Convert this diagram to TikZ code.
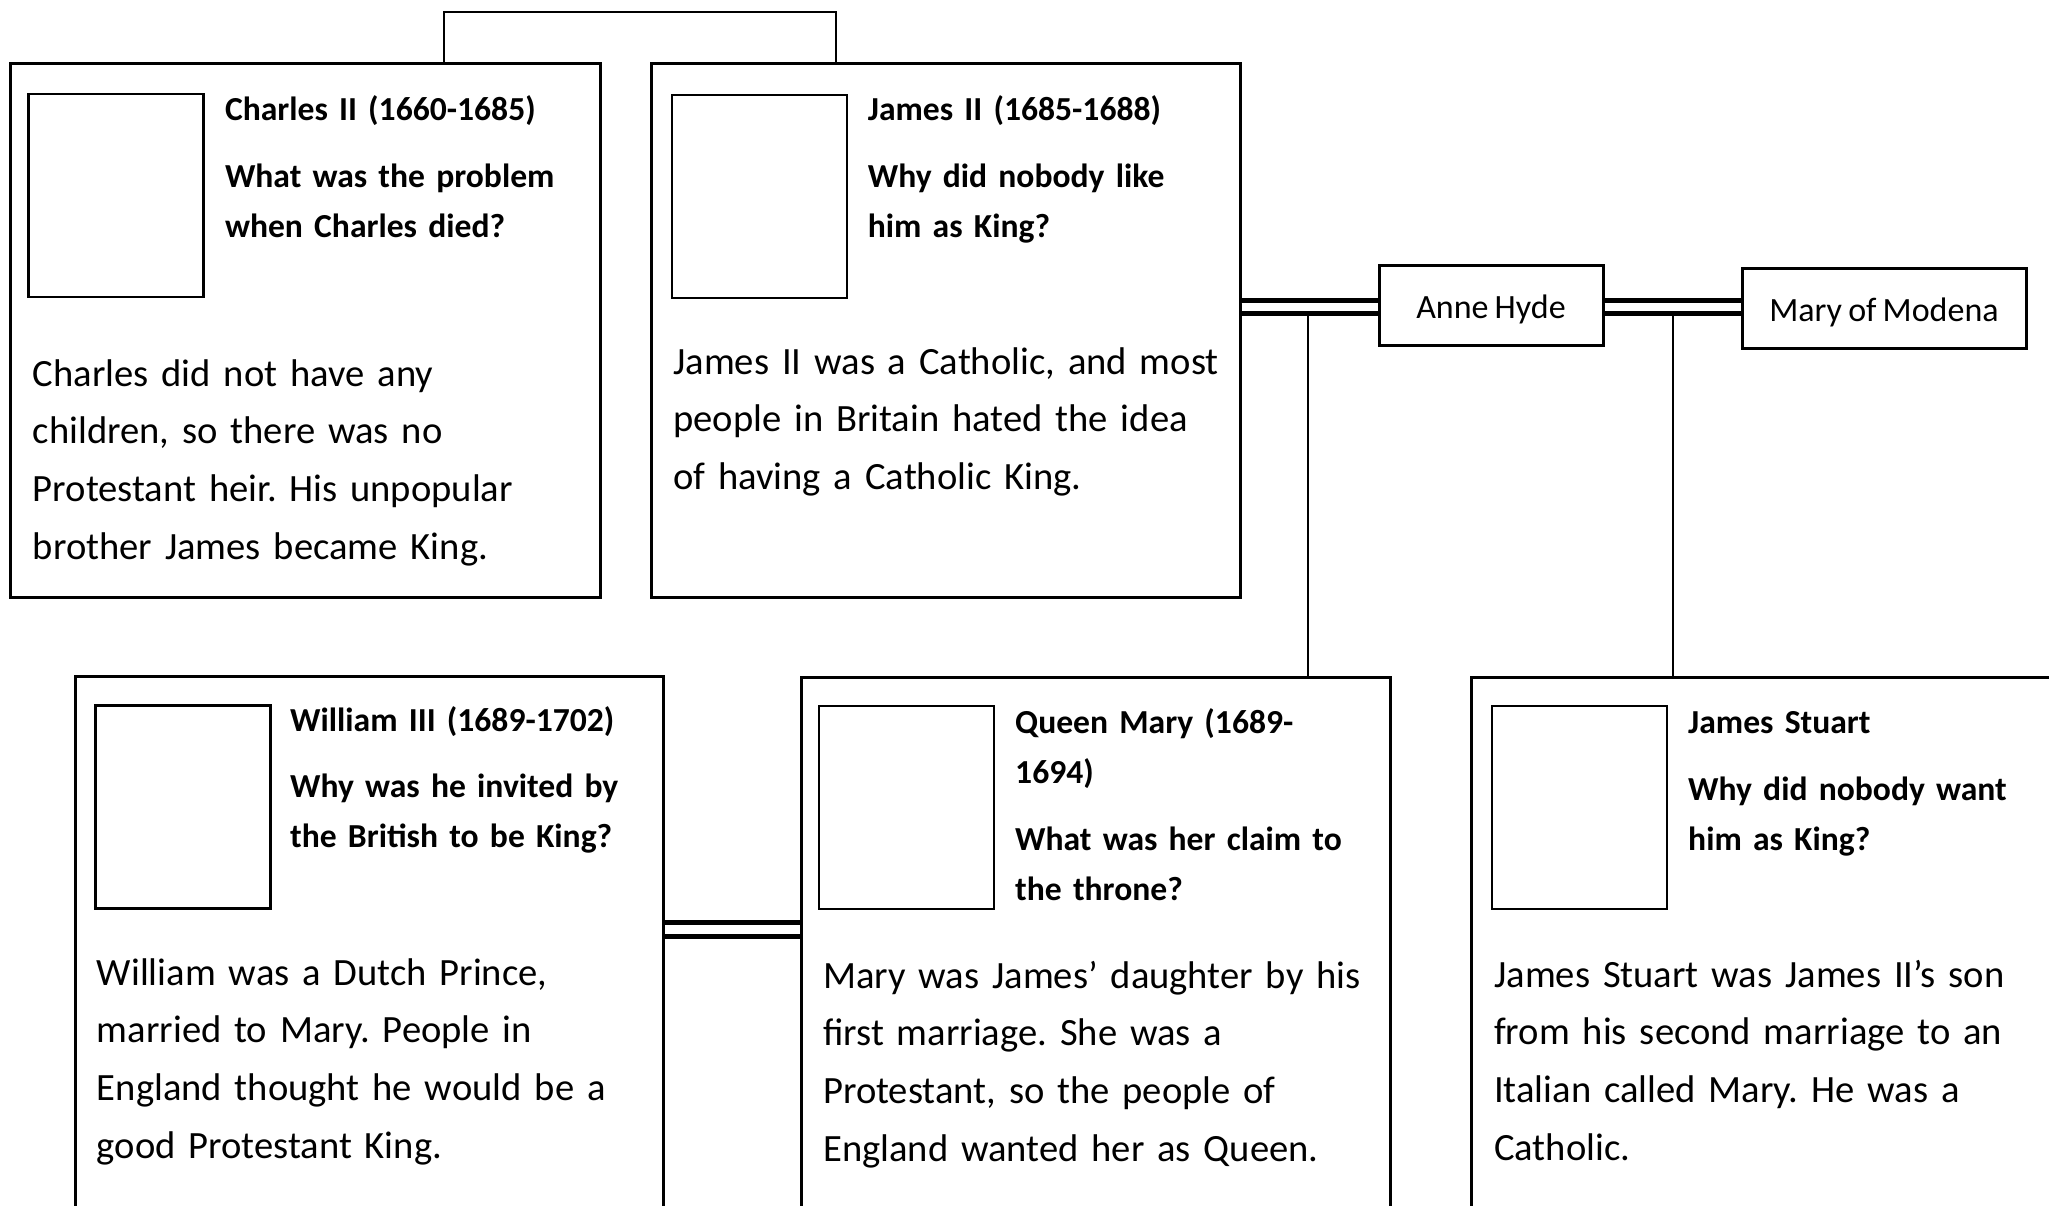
\documentclass[tikz,border=0pt]{standalone}
\usepackage{fontspec}
\setmainfont{Carlito}[WordSpace=0.8]
\frenchspacing
\begin{document}
\begin{tikzpicture}[x=1pt,y=-1pt, line join=miter,
    card/.style={draw, line width=3pt, anchor=north west, inner sep=0pt, outer sep=0pt},
    photo/.style={draw, line width=2.5pt, anchor=north west, inner sep=0pt, outer sep=0pt, minimum width=175pt, minimum height=203pt},
    spouse/.style={draw, line width=3pt, inner sep=0pt, outer sep=0pt, minimum height=80pt, text height=27pt, text depth=0pt, font=\fontsize{34}{40}\selectfont},
    qhead/.style={anchor=base west, inner sep=0pt, align=left, text width=460pt, font=\fontsize{33.6}{50}\selectfont\bfseries},
    blurb/.style={anchor=base west, inner sep=0pt, align=left, text width=580pt, font=\fontsize{38.6}{57.9}\selectfont},
    wed/.style={double, line width=5pt, double distance=8pt, shorten <=1.5pt, shorten >=1.5pt},
    kin/.style={line width=2pt}]
    \useasboundingbox (0,0) rectangle (2049,1206);
    \clip (0,0) rectangle (2049,1206);
    % top row
    \node[card, minimum width=590pt, minimum height=533pt] (charles) at (10.5,64) {};
    \node[card, minimum width=589pt, minimum height=533pt] (james) at (651,64) {};
    \node[spouse, minimum width=224pt] (anne) at (1491,305) {Anne Hyde};
    \node[spouse, minimum width=284pt] (modena) at (1884,308) {Mary of Modena};
    \node[photo] (charlespic) at (28.7,94) {};
    \node[photo] (jamespic) at (672,95) {};
    \node[qhead] (charleshead) at (224.8,121) {Charles II (1660-1685)\\[16.9pt] What was the problem\\ when Charles died?};
    \node[qhead] (jameshead) at (867.7,121) {James II (1685-1688)\\[16.9pt] Why did nobody like\\ him as King?};
    \node[blurb] (charlestext) at (32.7,386) {Charles did not have any\\ children, so there was no\\ Protestant heir. His unpopular\\ brother James became King.};
    \node[blurb] (jamestext) at (673,374) {James II was a Catholic, and most\\ people in Britain hated the idea\\ of having a Catholic King.};
    % bottom row
    \node[card, minimum width=588pt, minimum height=600pt] (william) at (75.8,676) {};
    \node[card, minimum width=589pt, minimum height=600pt] (mary) at (801,677) {};
    \node[card, minimum width=700pt, minimum height=600pt] (stuart) at (1471,677) {};
    \node[photo] (williampic) at (95.4,705.7) {};
    \node[photo] (marypic) at (819,706) {};
    \node[photo] (stuartpic) at (1492,706) {};
    \node[qhead] (williamhead) at (290,731) {William III (1689-1702)\\[16.9pt] Why was he invited by\\ the British to be King?};
    \node[qhead] (maryhead) at (1015,733.5) {Queen Mary (1689-\\ 1694)\\[16.9pt] What was her claim to\\ the throne?};
    \node[qhead] (stuarthead) at (1688,733.5) {James Stuart\\[16.9pt] Why did nobody want\\ him as King?};
    \node[blurb] (williamtext) at (96.7,985) {William was a Dutch Prince,\\ married to Mary. People in\\ England thought he would be a\\ good Protestant King.};
    \node[blurb] (marytext) at (823,988) {Mary was James’ daughter by his\\ first marriage. She was a\\ Protestant, so the people of\\ England wanted her as Queen.};
    \node[blurb] (stuarttext) at (1494,987) {James Stuart was James II’s son\\ from his second marriage to an\\ Italian called Mary. He was a\\ Catholic.};
    % family lines
    \draw[kin] (charles.north -| 444,0) -- (444,12) -- (836,12) -- (james.north -| 836,0);
    \draw[wed] (james.east |- 0,306.5) -- (anne.west |- 0,306.5);
    \draw[wed] (anne.east |- 0,307) -- (modena.west |- 0,307);
    \draw[wed, double distance=9pt] (william.east |- 0,929) -- (mary.west |- 0,929);
    \coordinate (annekids) at (1308,315);
    \coordinate (modenakids) at (1673,315);
    \draw[kin] (annekids) -- (annekids |- mary.north);
    \draw[kin] (modenakids) -- (modenakids |- stuart.north);
\end{tikzpicture}
\end{document}
